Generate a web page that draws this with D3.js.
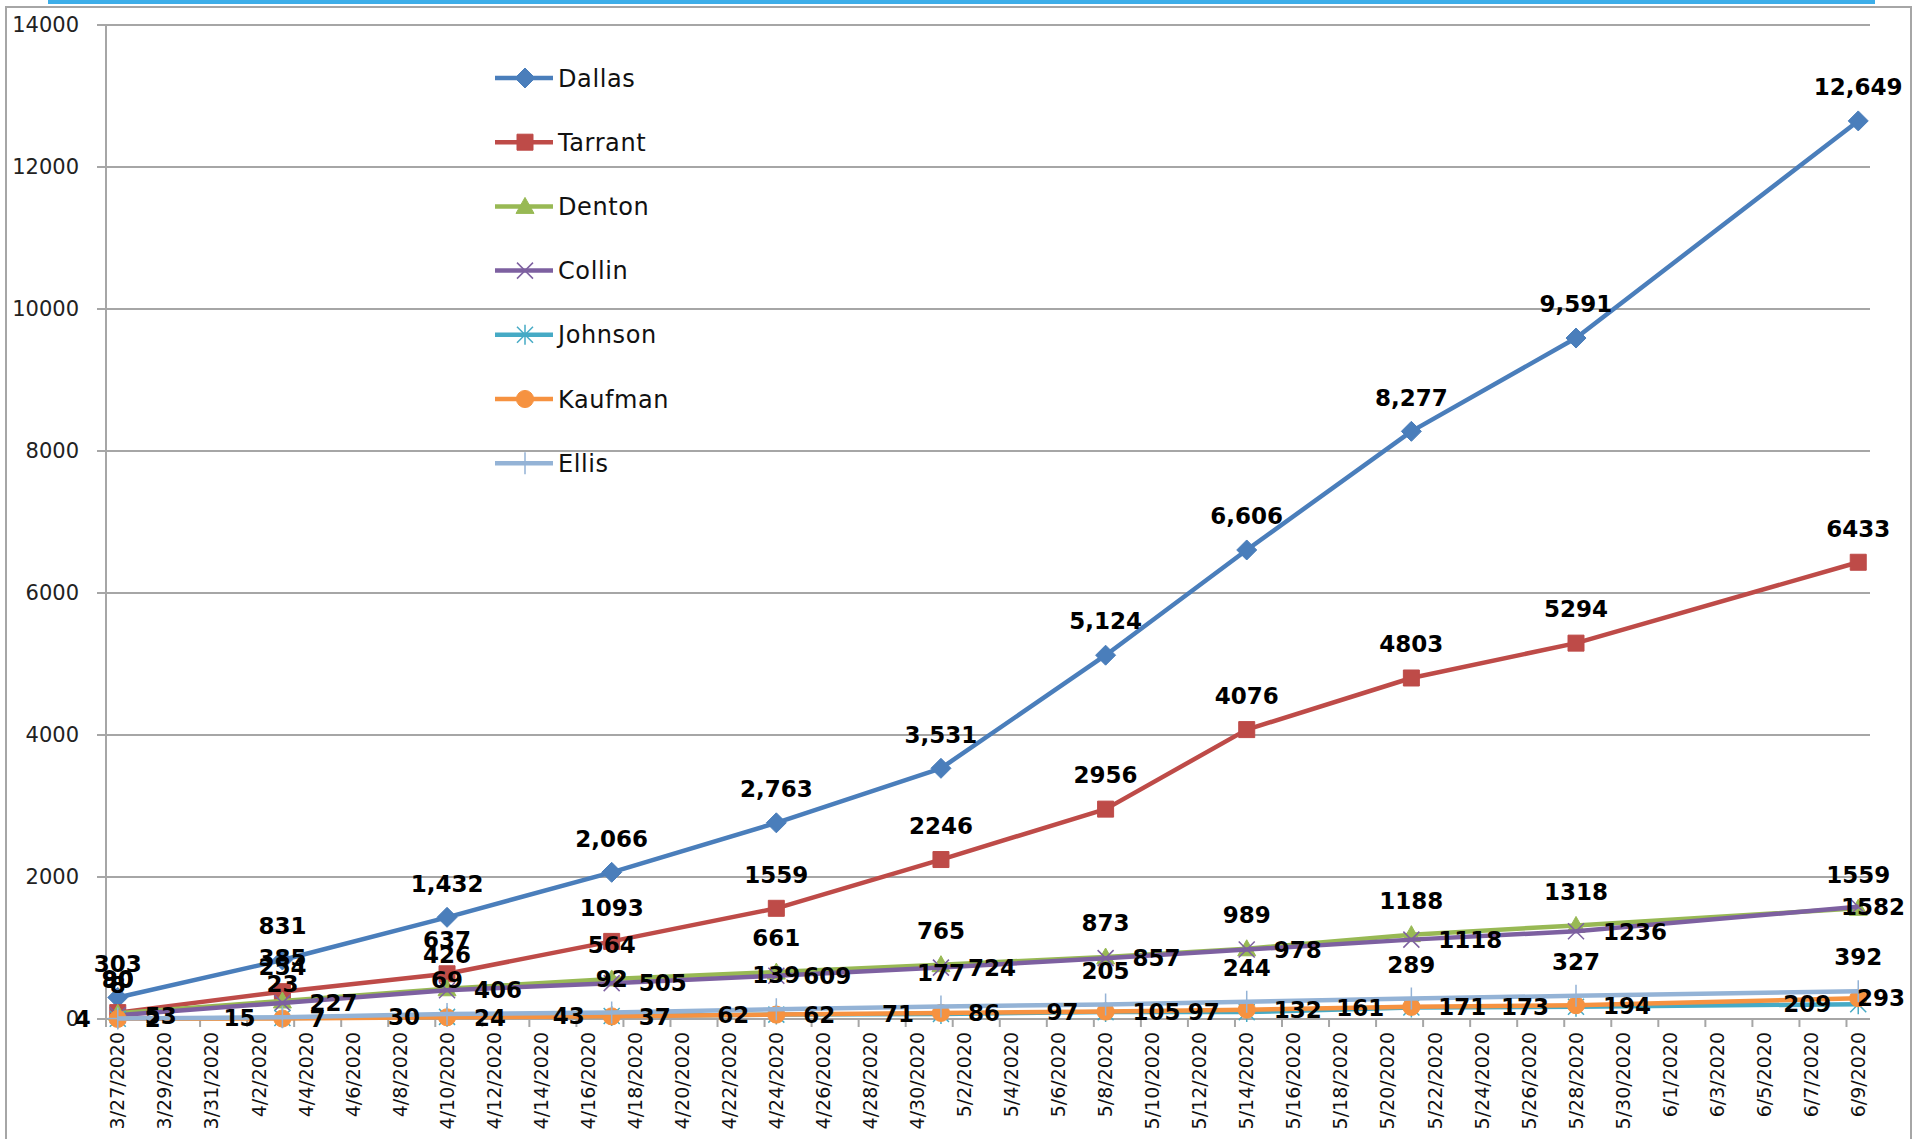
<!DOCTYPE html>
<html>
<head>
<meta charset="utf-8">
<script src="https://cdn.jsdelivr.net/npm/d3@7"></script>
<style>
  body { margin: 0; background: #fff; }
  svg { display: block; font-family: Verdana, "DejaVu Sans", sans-serif; }
  .grid line { stroke: #a6a6a6; stroke-width: 2; }
  .ylab { font-size: 21px; fill: #222; }
  .xlab { font-size: 19px; fill: #111; }
  .val { font-size: 23px; font-weight: bold; fill: #000; }
  .legend text { font-size: 24px; fill: #111; letter-spacing: 0.6px; }
</style>
</head>
<body>
<div class="chart"></div>
<script>
// DATA //
var dates = ['2020-03-27', '2020-04-03', '2020-04-10', '2020-04-17', '2020-04-24', '2020-05-01',
             '2020-05-08', '2020-05-14', '2020-05-21', '2020-05-28', '2020-06-09'];

var dallas  = [303, 831, 1432, 2066, 2763, 3531, 5124, 6606, 8277, 9591, 12649];
var tarrant = [90, 385, 637, 1093, 1559, 2246, 2956, 4076, 4803, 5294, 6433];
var denton  = [80, 254, 426, 564, 661, 765, 873, 989, 1188, 1318, 1559];
var collin  = [53, 227, 406, 505, 609, 724, 857, 978, 1118, 1236, 1582];
var johnson = [4, 15, 30, 43, 62, 71, 97, 97, 161, 173, 209];
var kaufman = [2, 7, 24, 37, 62, 86, 105, 132, 171, 194, 293];
var ellis   = [8, 23, 69, 92, 139, 177, 205, 244, 289, 327, 392];

var yTicks = [0, 2000, 4000, 6000, 8000, 10000, 12000, 14000];
var firstDay = '2020-03-27', lastDay = '2020-06-09';

var series = [
    {name: 'Dallas',  values: dallas,  color: '#4a7ebb', marker: 'diamond',  pos: 'above', comma: true},
    {name: 'Tarrant', values: tarrant, color: '#be4b48', marker: 'square',   pos: 'above'},
    {name: 'Denton',  values: denton,  color: '#98b954', marker: 'triangle', pos: 'above'},
    {name: 'Collin',  values: collin,  color: '#7d60a0', marker: 'x',        pos: 'right'},
    {name: 'Johnson', values: johnson, color: '#46aac5', marker: 'star',     pos: 'left'},
    {name: 'Kaufman', values: kaufman, color: '#f69240', marker: 'circle',   pos: 'right'},
    {name: 'Ellis',   values: ellis,   color: '#94b3d6', marker: 'plus',     pos: 'above'}
];

// LAYOUT //
var W = 1915, H = 1139,
    plot = {left: 106, right: 1870, top: 25, bottom: 1019};

var parse = d3.timeParse('%Y-%m-%d');
var d0 = parse(firstDay), d1 = parse(lastDay);

var x = d3.scaleTime()
    .domain([d3.timeHour.offset(d0, -12), d3.timeHour.offset(d1, 12)])
    .range([plot.left, plot.right]);
var y = d3.scaleLinear().domain([0, 14000]).range([plot.bottom, plot.top]);

var svg = d3.select('.chart').append('svg')
    .attr('width', W)
    .attr('height', H);

// frame + top blue rule
svg.append('rect').attr('x', 6).attr('y', 7).attr('width', W - 10).attr('height', H + 10)
    .attr('fill', 'none').attr('stroke', '#a6a6a6').attr('stroke-width', 2);
svg.append('rect').attr('x', 48).attr('y', 0).attr('width', 1827).attr('height', 4).attr('fill', '#3daee9');

// gridlines
svg.append('g').attr('class', 'grid')
    .selectAll('line').data(yTicks).enter().append('line')
    .attr('x1', plot.left - 9).attr('x2', plot.right)
    .attr('y1', function(d) { return y(d); })
    .attr('y2', function(d) { return y(d); });

svg.append('line').attr('x1', plot.left).attr('x2', plot.left)
    .attr('y1', plot.top).attr('y2', plot.bottom)
    .attr('stroke', '#a6a6a6').attr('stroke-width', 2);

svg.append('g').selectAll('text').data(yTicks).enter().append('text')
    .attr('class', 'ylab')
    .attr('x', 79)
    .attr('y', function(d) { return y(d); })
    .attr('dy', '0.35em')
    .attr('text-anchor', 'end')
    .text(function(d) { return d; });

// x axis: ticks on slot edges, labels in slot centres
var labelDays = d3.timeDay.range(d0, d3.timeDay.offset(d1, 1)).filter(function(d, i) { return i % 2 === 0; });

var xAxis = svg.append('g')
    .attr('transform', 'translate(0,' + plot.bottom + ')');

xAxis.append('line').attr('x1', plot.left).attr('x2', plot.right)
    .attr('stroke', '#a6a6a6').attr('stroke-width', 2);

xAxis.selectAll('.tick').data(labelDays).enter().append('line')
    .attr('class', 'tick')
    .attr('x1', function(d) { return x(d3.timeHour.offset(d, -12)); })
    .attr('x2', function(d) { return x(d3.timeHour.offset(d, -12)); })
    .attr('y1', 0).attr('y2', 8)
    .attr('stroke', '#a6a6a6').attr('stroke-width', 2);

var fmtDate = d3.timeFormat('%-m/%-d/%Y');
xAxis.selectAll('.xlab').data(labelDays).enter().append('text')
    .attr('class', 'xlab')
    .attr('transform', function(d) { return 'translate(' + x(d) + ',13) rotate(-90)'; })
    .attr('dy', '0.35em')
    .attr('text-anchor', 'end')
    .text(fmtDate);

// markers
function markerPath(type) {
    switch (type) {
        case 'diamond': return 'M0,-10L10,0L0,10L-10,0Z';
        case 'square': return 'M-8,-8H8V8H-8Z';
        case 'triangle': return 'M0,-9L9,7H-9Z';
        case 'x': return 'M-8,-8L8,8M-8,8L8,-8';
        case 'star': return 'M-8,-8L8,8M-8,8L8,-8M0,-10V10';
        case 'plus': return 'M-10,0H10M0,-11V11';
        case 'circle': return d3.symbol().type(d3.symbolCircle).size(230)();
    }
}
function isStroked(type) { return type === 'x' || type === 'star' || type === 'plus'; }

var line = d3.line()
    .x(function(d) { return x(d.date); })
    .y(function(d) { return y(d.value); });

series.forEach(function(s) {
    s.points = s.values.map(function(v, i) { return {date: parse(dates[i]), value: v}; });
});

var gSeries = svg.append('g');
series.forEach(function(s) {
    var g = gSeries.append('g');
    g.append('path').datum(s.points)
        .attr('d', line)
        .attr('fill', 'none')
        .attr('stroke', s.color)
        .attr('stroke-width', 4.5)
        .attr('stroke-linejoin', 'round');
    g.selectAll('.m').data(s.points).enter().append('path')
        .attr('transform', function(d) { return 'translate(' + x(d.date) + ',' + y(d.value) + ')'; })
        .attr('d', markerPath(s.marker))
        .attr('fill', isStroked(s.marker) ? 'none' : s.color)
        .attr('stroke', s.color)
        .attr('stroke-width', isStroked(s.marker) ? 1.5 : 1);
});

// value labels
var fmtComma = d3.format(',');
var gLabels = svg.append('g');
series.forEach(function(s) {
    gLabels.selectAll(null).data(s.points).enter().append('text')
        .attr('class', 'val')
        .attr('x', function(d) {
            var px = x(d.date);
            if (s.pos === 'right') return px + 27;
            if (s.pos === 'left') return px - 27;
            return px;
        })
        .attr('y', function(d) { return s.pos === 'above' ? y(d.value) - 34 : y(d.value); })
        .attr('dy', '0.36em')
        .attr('text-anchor', s.pos === 'right' ? 'start' : (s.pos === 'left' ? 'end' : 'middle'))
        .text(function(d) { return s.comma ? fmtComma(d.value) : d.value; })
        .each(function() {
            // keep labels inside the chart area like Excel does
            var b = this.getBBox();
            if (b.x + b.width > 1905) {
                d3.select(this).attr('x', +d3.select(this).attr('x') - (b.x + b.width - 1905));
            }
        });
});

// legend
var legend = svg.append('g').attr('class', 'legend');
series.forEach(function(s, i) {
    var g = legend.append('g').attr('transform', 'translate(0,' + (78 + i * 64.2) + ')');
    g.append('line').attr('x1', 495).attr('x2', 553)
        .attr('stroke', s.color).attr('stroke-width', 4.5);
    g.append('path').attr('transform', 'translate(525,0)')
        .attr('d', markerPath(s.marker))
        .attr('fill', isStroked(s.marker) ? 'none' : s.color)
        .attr('stroke', s.color)
        .attr('stroke-width', isStroked(s.marker) ? 1.5 : 1);
    g.append('text').attr('x', 558).attr('dy', '0.36em').text(s.name);
});
</script>
</body>
</html>
